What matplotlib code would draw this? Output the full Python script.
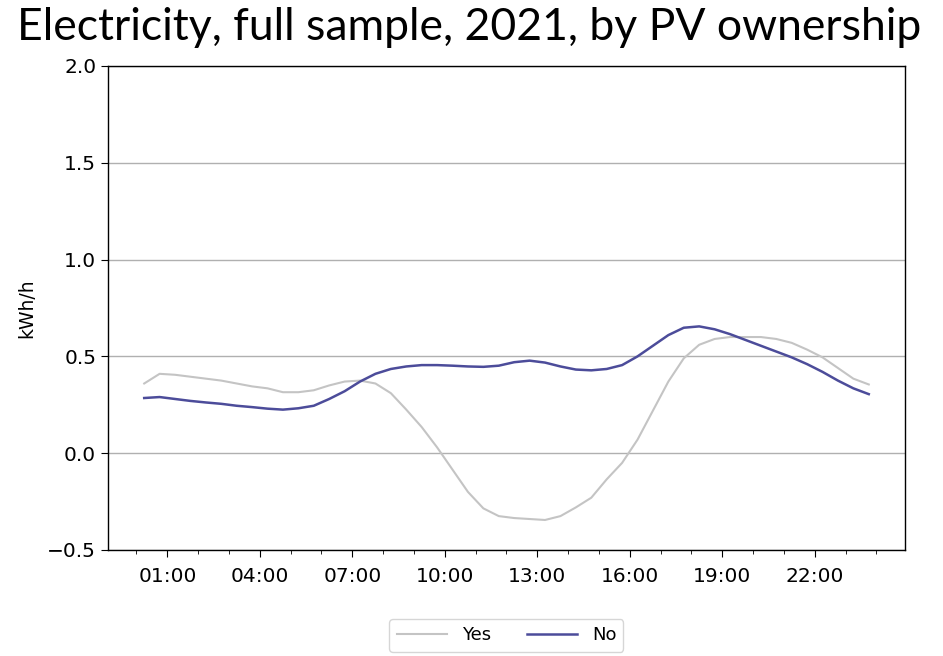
import matplotlib
matplotlib.use("Agg")
import matplotlib.pyplot as plt
from matplotlib.ticker import FixedLocator, MultipleLocator

OUT = "out.png"

# hour of day (quarter past / quarter to), half-hour steps
HOURS = [0.25 + 0.5 * i for i in range(48)]
YES = [0.36, 0.41, 0.405, 0.395, 0.385, 0.375, 0.36, 0.345, 0.335, 0.315,
       0.315, 0.325, 0.35, 0.37, 0.375, 0.36, 0.31, 0.225, 0.135, 0.03,
       -0.085, -0.2, -0.285, -0.325, -0.335, -0.34, -0.345, -0.325, -0.28, -0.23,
       -0.135, -0.05, 0.07, 0.22, 0.37, 0.49, 0.56, 0.59, 0.6, 0.6,
       0.6, 0.59, 0.57, 0.535, 0.495, 0.44, 0.385, 0.355]
NO = [0.285, 0.29, 0.28, 0.27, 0.262, 0.255, 0.245, 0.238, 0.23, 0.225,
      0.232, 0.245, 0.28, 0.32, 0.37, 0.41, 0.435, 0.448, 0.455, 0.455,
      0.452, 0.448, 0.446, 0.452, 0.47, 0.478, 0.468, 0.448, 0.432, 0.428,
      0.435, 0.455, 0.5, 0.555, 0.61, 0.648, 0.655, 0.64, 0.615, 0.585,
      0.555, 0.525, 0.495, 0.46, 0.42, 0.375, 0.335, 0.305]
TICK_HOURS = [1, 4, 7, 10, 13, 16, 19, 22]
TICK_LABELS = ["01:00", "04:00", "07:00", "10:00", "13:00", "16:00", "19:00", "22:00"]
Y_TICKS = [-0.5, 0.0, 0.5, 1.0, 1.5, 2.0]

TITLE = "Electricity, full sample, 2021, by PV ownership"
COL_YES, COL_NO = "#c4c4c4", "#4c4c9a"

fig = plt.figure(figsize=(9.43, 6.56), dpi=100)
ax = fig.add_axes([0.1145, 0.1616, 0.8452, 0.7378])

ax.plot(HOURS, YES, color=COL_YES, lw=1.5, label="Yes", zorder=3)
ax.plot(HOURS, NO, color=COL_NO, lw=1.8, label="No", zorder=3)

ax.set_ylim(-0.5, 2.0)
ax.set_yticks(Y_TICKS)
ax.set_yticklabels([f"{v:.1f}".replace("-", "\u2212") for v in Y_TICKS])
ax.xaxis.set_major_locator(FixedLocator(TICK_HOURS))
ax.set_xticklabels(TICK_LABELS)
ax.xaxis.set_minor_locator(MultipleLocator(1))
ax.tick_params(axis="both", labelsize=14.5, length=5)
ax.tick_params(axis="x", pad=7)
ax.tick_params(axis="x", which="minor", length=3)
ax.grid(axis="y", color="#b0b0b0", lw=1.0, zorder=0)
ax.set_ylabel("kWh/h", fontsize=13.5, labelpad=8)
for s in ax.spines.values():
    s.set_linewidth(1.0)

fig.text(0.497, 0.958, TITLE, ha="center", va="center", fontsize=32, family="Lato")
fig.legend(loc="upper center", bbox_to_anchor=(0.537, 0.07), ncol=2,
           fontsize=13, frameon=True, edgecolor="#cccccc", handlelength=2.8,
           columnspacing=2.0)

fig.savefig(OUT, dpi=100)
